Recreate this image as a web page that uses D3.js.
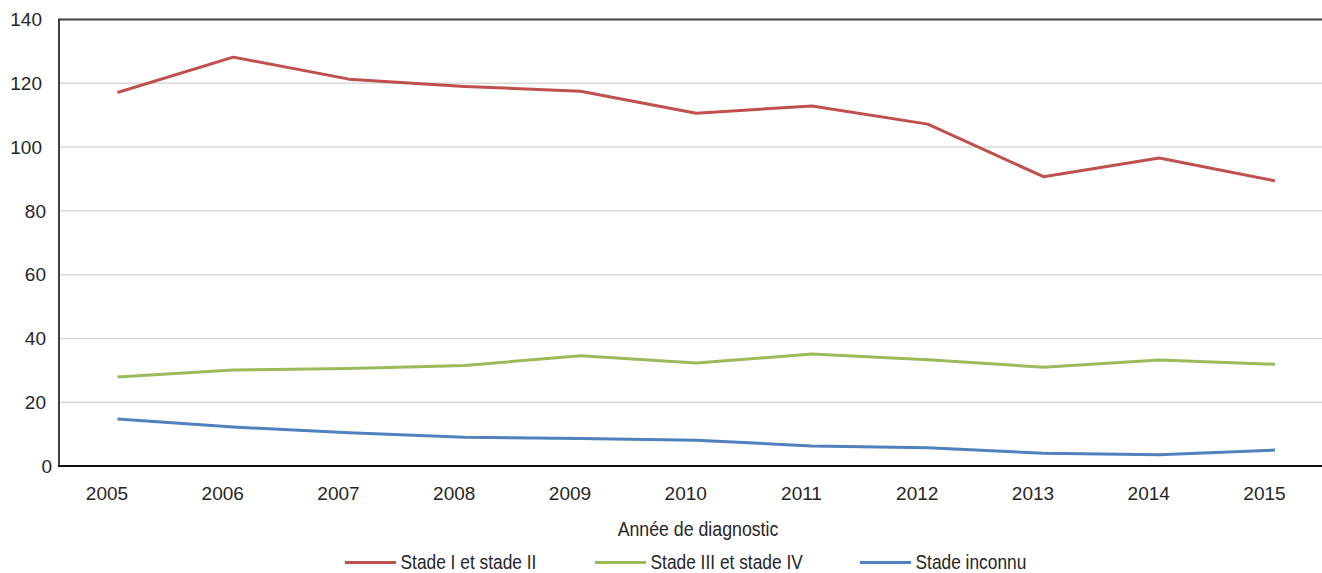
<!DOCTYPE html>
<html>
<head>
<meta charset="utf-8">
<script src="https://cdn.jsdelivr.net/npm/d3@7"></script>
<style>
  body { margin: 0; background: #fff; }
  text { font-family: "Liberation Sans", Arial, sans-serif; fill: #262626; }
</style>
</head>
<body>
<div id="chart"></div>
<script>
// DATA
const years = [2005, 2006, 2007, 2008, 2009, 2010, 2011, 2012, 2013, 2014, 2015];
const stadeI_II = [117.1, 128.2, 121.3, 119.0, 117.5, 110.6, 112.9, 107.2, 90.7, 96.6, 89.4];
const stadeIII_IV = [27.9, 30.1, 30.6, 31.5, 34.6, 32.3, 35.1, 33.3, 31.0, 33.2, 31.9];
const stadeInconnu = [14.7, 12.2, 10.4, 9.0, 8.6, 8.1, 6.3, 5.7, 4.0, 3.5, 5.0];
const seriesNames = ["Stade I et stade II", "Stade III et stade IV", "Stade inconnu"];
const yTicks = [0, 20, 40, 60, 80, 100, 120, 140];
const xTitle = "Année de diagnostic";

const colors = ["#C0504D", "#9BBB59", "#4F81BD"];
const series = [stadeI_II, stadeIII_IV, stadeInconnu];

// SETUP
const width = 1322, height = 573;
const plot = {left: 59, right: 1322, top: 19.5, bottom: 466};

const svg = d3.select("#chart").append("svg")
    .attr("width", width)
    .attr("height", height);

// SCALES
const x = d3.scalePoint()
    .domain(years)
    .range([107, 1264.5]);

const y = d3.scaleLinear()
    .domain([0, 140])
    .range([plot.bottom, plot.top]);

// GRIDLINES
svg.append("g")
    .selectAll("line")
    .data(yTicks.filter(d => d > 0 && d < 140))
    .enter().append("line")
    .attr("x1", plot.left).attr("x2", plot.right)
    .attr("y1", d => y(d)).attr("y2", d => y(d))
    .attr("stroke", "#d9d9d9")
    .attr("stroke-width", 1.5);

// top border line
svg.append("line")
    .attr("x1", plot.left).attr("x2", plot.right)
    .attr("y1", y(140)).attr("y2", y(140))
    .attr("stroke", "#404040")
    .attr("stroke-width", 2);

// left axis
svg.append("line")
    .attr("x1", plot.left).attr("x2", plot.left)
    .attr("y1", plot.top - 1).attr("y2", plot.bottom)
    .attr("stroke", "#404040")
    .attr("stroke-width", 2);

// bottom axis
svg.append("line")
    .attr("x1", plot.left - 1).attr("x2", plot.right)
    .attr("y1", plot.bottom).attr("y2", plot.bottom)
    .attr("stroke", "#111")
    .attr("stroke-width", 2);

// Y LABELS
const yGap = {1: 7, 2: 13, 3: 17};
svg.append("g")
    .selectAll("text")
    .data(yTicks)
    .enter().append("text")
    .attr("x", d => plot.left - yGap[String(d).length])
    .attr("y", d => y(d))
    .attr("dy", "0.36em")
    .attr("text-anchor", "end")
    .style("font-size", "19px")
    .text(d => d);

// X LABELS
svg.append("g")
    .selectAll("text")
    .data(years)
    .enter().append("text")
    .attr("x", d => x(d))
    .attr("y", 493)
    .attr("dy", "0.36em")
    .attr("text-anchor", "middle")
    .style("font-size", "19px")
    .text(d => d);

// axis title, squeezed a bit to look like the condensed face of the source
svg.append("text")
    .attr("transform", "translate(698,529) scale(0.91,1)")
    .attr("dy", "0.36em")
    .attr("text-anchor", "middle")
    .style("font-size", "19.5px")
    .text(xTitle);

// LINES (points sit slightly right of the category labels, as in the source)
const line = d3.line()
    .x((d, i) => x(years[i]) + 10.5)
    .y(d => y(d));

svg.append("g")
    .selectAll("path")
    .data(series)
    .enter().append("path")
    .attr("d", line)
    .attr("fill", "none")
    .attr("stroke", (d, i) => colors[i])
    .attr("stroke-width", 3)
    .attr("stroke-linejoin", "round");

// LEGEND
const legendX = [345, 595, 860];
const legend = svg.append("g")
    .selectAll("g")
    .data(seriesNames)
    .enter().append("g")
    .attr("transform", (d, i) => `translate(${legendX[i]},562.5)`);

legend.append("line")
    .attr("x1", 0).attr("x2", 51)
    .attr("y1", 0).attr("y2", 0)
    .attr("stroke", (d, i) => colors[i])
    .attr("stroke-width", 3);

legend.append("text")
    .attr("transform", "translate(55.5,-1) scale(0.89,1)")
    .attr("dy", "0.36em")
    .style("font-size", "19.5px")
    .text(d => d);
</script>
</body>
</html>
